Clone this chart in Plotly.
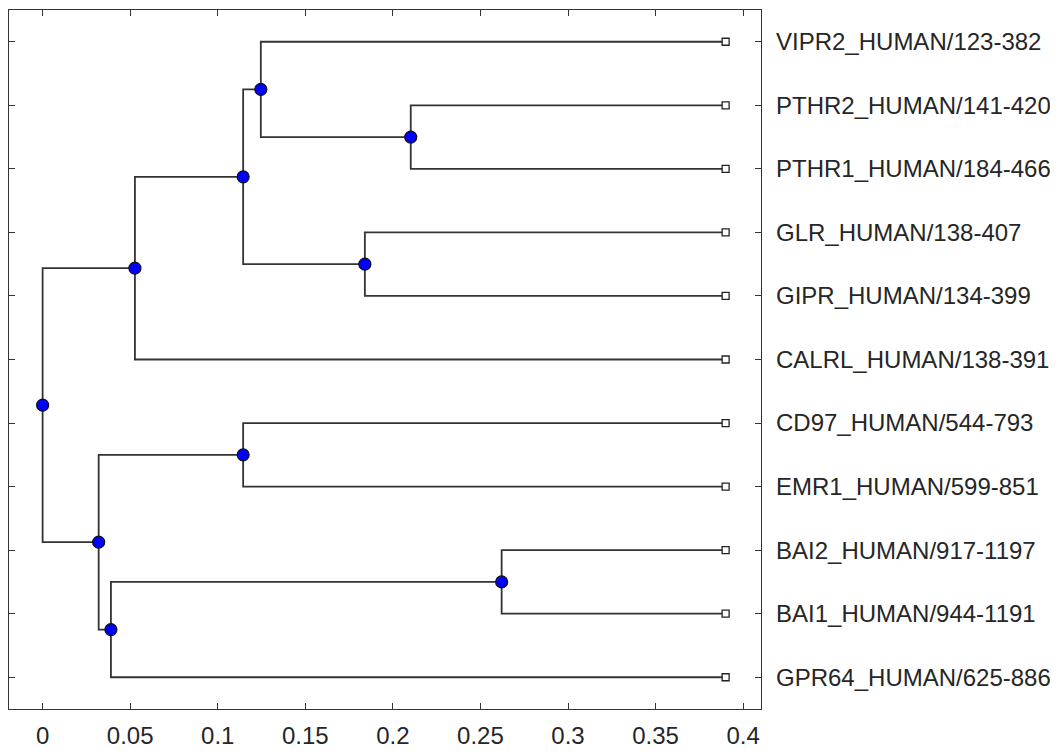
import plotly.graph_objects as go

# ---- data ----
leaf_names = [
    "VIPR2_HUMAN/123-382",
    "PTHR2_HUMAN/141-420",
    "PTHR1_HUMAN/184-466",
    "GLR_HUMAN/138-407",
    "GIPR_HUMAN/134-399",
    "CALRL_HUMAN/138-391",
    "CD97_HUMAN/544-793",
    "EMR1_HUMAN/599-851",
    "BAI2_HUMAN/917-1197",
    "BAI1_HUMAN/944-1191",
    "GPR64_HUMAN/625-886",
]
leaf_dist = [0.390, 0.390, 0.390, 0.390, 0.390, 0.390, 0.390, 0.390, 0.390, 0.390, 0.390]

# internal nodes: name, child A, child B, distance from root
node_names = ["n1", "n2", "n3", "n4", "n5", "n6", "n7", "n8", "n9", "root"]
node_child_a = ["PTHR2_HUMAN/141-420", "VIPR2_HUMAN/123-382", "GLR_HUMAN/138-407", "n2", "n4",
                "CD97_HUMAN/544-793", "BAI2_HUMAN/917-1197", "n7", "n6", "n5"]
node_child_b = ["PTHR1_HUMAN/184-466", "n1", "GIPR_HUMAN/134-399", "n3", "CALRL_HUMAN/138-391",
                "EMR1_HUMAN/599-851", "BAI1_HUMAN/944-1191", "GPR64_HUMAN/625-886", "n8", "n9"]
node_dist = [0.2102, 0.1246, 0.1840, 0.1145, 0.0527, 0.1145, 0.2621, 0.0390, 0.0320, 0.0]

x_ticks = [0, 0.05, 0.1, 0.15, 0.2, 0.25, 0.3, 0.35, 0.4]

# ---- layout of the tree ----
pos = {}
for i, (nm, d) in enumerate(zip(leaf_names, leaf_dist)):
    pos[nm] = (d, i + 1)
for nm, a, b, d in zip(node_names, node_child_a, node_child_b, node_dist):
    pos[nm] = (d, (pos[a][1] + pos[b][1]) / 2.0)

lx, ly = [], []
for nm, a, b in zip(node_names, node_child_a, node_child_b):
    x0, y0 = pos[nm]
    xa, ya = pos[a]
    xb, yb = pos[b]
    lx += [xa, x0, x0, xb, None]
    ly += [ya, ya, yb, yb, None]

fig = go.Figure()
fig.add_trace(go.Scatter(x=lx, y=ly, mode="lines",
                         line=dict(color="#333333", width=1.8),
                         hoverinfo="skip", showlegend=False))
fig.add_trace(go.Scatter(x=[pos[n][0] for n in node_names],
                         y=[pos[n][1] for n in node_names],
                         mode="markers",
                         marker=dict(symbol="circle", size=12, color="#0000ff",
                                     line=dict(color="#111111", width=1.2)),
                         text=node_names, showlegend=False))
fig.add_trace(go.Scatter(x=leaf_dist, y=[pos[n][1] for n in leaf_names],
                         mode="markers",
                         marker=dict(symbol="square", size=7, color="white",
                                     line=dict(color="#222222", width=1.3)),
                         text=leaf_names, showlegend=False))

axis_common = dict(showgrid=False, zeroline=False, showline=True, linecolor="#333333",
                   linewidth=1.4, mirror="ticks", ticks="inside", ticklen=6,
                   tickcolor="#333333", tickwidth=1.2,
                   tickfont=dict(family="Liberation Sans, Arial, sans-serif", size=24,
                                 color="#262626"))

fig.update_layout(
    width=1050, height=743,
    margin=dict(l=1, r=297, t=2, b=42),
    paper_bgcolor="white", plot_bgcolor="white",
    xaxis=dict(range=[-0.0192, 0.4102], tickvals=x_ticks,
               ticktext=[("%g" % v) for v in x_ticks], ticklabelstandoff=5,
               **axis_common),
    yaxis=dict(range=[11.5, 0.5], tickvals=list(range(1, len(leaf_names) + 1)),
               ticktext=leaf_names, side="right", ticklabelstandoff=9, **axis_common),
)

fig.write_html("out.html")
